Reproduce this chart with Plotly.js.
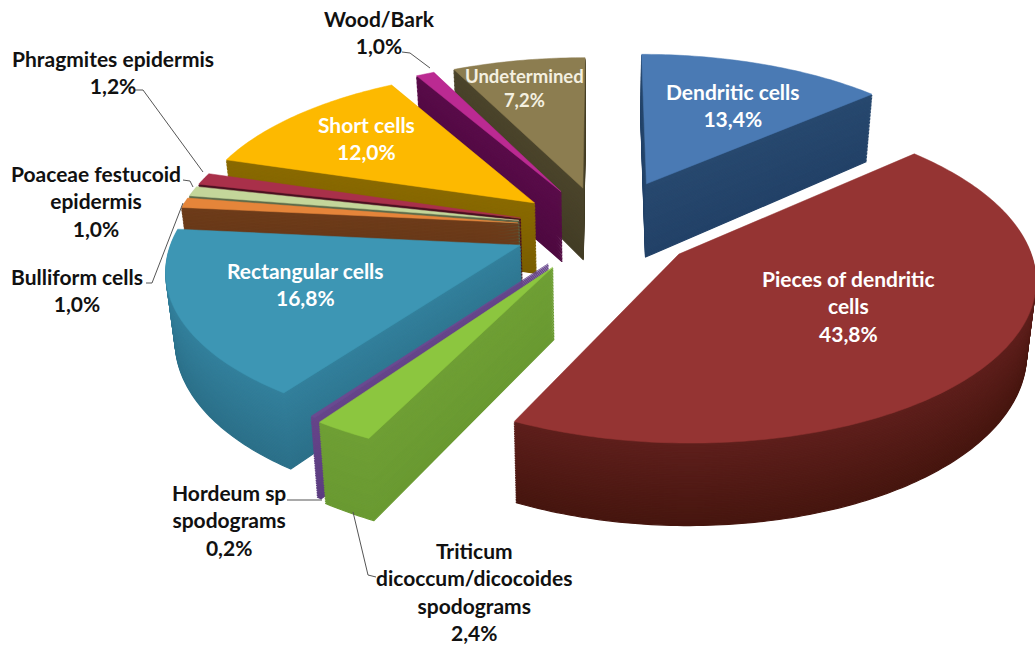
<!DOCTYPE html>
<html><head><meta charset="utf-8">
<script src="https://cdn.plot.ly/plotly-3.0.1.min.js"></script>
<style>html,body{margin:0;padding:0;background:#fff;overflow:hidden}#chart{width:1035px;height:647px}text{font-variant-ligatures:none}</style>
</head><body><div id="chart"></div>
<script>
// ---- data ----
const categories = ["Dendritic cells","Pieces of dendritic cells","Triticum dicoccum/dicocoides spodograms","Hordeum sp spodograms","Rectangular cells","Bulliform cells","Poaceae festucoid epidermis","Phragmites epidermis","Short cells","Wood/Bark","Undetermined"];
const shares = [13.4,43.8,2.4,0.2,16.8,1.0,1.0,1.2,12.0,1.0,7.2];
// ---- style ----
const pulls = [0.32,0.27,0.28,0.27,0.26,0.25,0.25,0.25,0.26,0.27,0.27];
const depths = [76,70,70,70,67,72,72,72,72,72,74];
const topColors = ["#4a7ab4","#953433","#8cc63f","#6a4a90","#3d96b4","#e5853a","#c4d69a","#a9304a","#fdb900","#bb2a92","#8c7d50"];
const sideTop = ["#28496f","#5e1f1c","#6f9f35","#66458a","#33809c","#6e3c1a","#5d6b4a","#4a1020","#8a6a00","#5a0c4a","#4c452c"];
const sideBottom = ["#234268","#46160f","#6a9a32","#5c3d80","#2c7089","#5f3315","#4d5a3e","#3c0c18","#7a5e00","#4e0a40","#433d26"];
const layerCount = 48;
// camera that lays the flat pie on the table
const cam = {cx:603, cy:228, a:345, b:157, g:0.13, shrink:0.022};

function mix(c1,c2,t){
  const p=c=>[1,3,5].map(i=>parseInt(c.substr(i,2),16));
  const a=p(c1),b=p(c2);
  return "rgb("+a.map((v,i)=>Math.round(v+(b[i]-v)*t)).join(",")+")";
}
const traces=[];
for(let k=layerCount;k>=0;k--){
  const t=k/layerCount;
  const cols=k===0?topColors:sideTop.map((c,i)=>mix(c,sideBottom[i],t));
  traces.push({type:"pie",labels:categories,values:shares,sort:false,direction:"clockwise",rotation:0,
    pull:pulls,textinfo:"none",hoverinfo:"skip",showlegend:false,domain:{x:[0,1],y:[0,1]},
    marker:{colors:cols,line:{color:cols,width:k===0?0.5:1.2}}});
}
const W=1035,H=647;
const X=p=>p/W, Y=p=>1-p/H;
function lab(text,x,y,color,size){
  return {text:text,xref:"paper",yref:"paper",x:X(x),y:Y(y),xanchor:"center",yanchor:"middle",showarrow:false,align:"center",
    font:{family:"Lato, Carlito, sans-serif",size:size||21,color:color||"#111",weight:700}};
}
const annotations=[
  lab("Dendritic cells<br>13,4%",733,105,"#fff"),
  lab("Pieces of dendritic<br>cells<br>43,8%",848,306,"#fff"),
  lab("Rectangular cells<br>16,8%",305,284,"#fff"),
  lab("Short cells<br>12,0%",366,138,"#fff"),
  lab("Undetermined<br>7,2%",524,88,"#f4f0e0",18.5),
  lab("Wood/Bark<br>1,0%",379,32),
  lab("Phragmites epidermis<br>1,2%",113,72),
  lab("Poaceae festucoid<br>epidermis<br>1,0%",96,201),
  lab("Bulliform cells<br>1,0%",77,290),
  lab("Hordeum sp<br>spodograms<br>0,2%",229,520),
  lab("Triticum<br>dicoccum/dicocoides<br>spodograms<br>2,4%",474,591)
];
function leader(pts){
  return {type:"path",xref:"paper",yref:"paper",
    path:"M"+pts.map(p=>X(p[0])+","+Y(p[1])).join("L"),
    line:{color:"#555",width:1}};
}
const leaders=[
  [[135,90],[143,90],[203,172]],
  [[183,180],[190,181],[193,187]],
  [[146,283],[152,283],[183,203]],
  [[402,52],[410,53],[430,68]],
  [[287,500],[322,500]],
  [[353,512],[368,575],[376,577]]
].map(leader);
const layout={width:W,height:H,margin:{l:0,r:0,t:0,b:0,pad:0},paper_bgcolor:"#fff",plot_bgcolor:"#fff",showlegend:false,annotations:annotations,shapes:leaders};

Plotly.newPlot("chart",traces,layout,{staticPlot:true,displayModeBar:false}).then(gd=>{
  const maxPull=Math.max(...pulls);
  const r=Math.min(W,H)/(2+2*maxPull), c0x=W/2, c0y=H/2;
  const project=(x,y,z,depth)=>{
    const u=(x-c0x)/r, v=(y-c0y)/r, p=1/(1-cam.g*v);
    return [cam.cx+cam.a*u*p*(1-cam.shrink*z), cam.cy+(cam.b*v+depth*z)*p];
  };
  gd.querySelectorAll(".pielayer .trace").forEach((tr,ti)=>{
    const z=(layerCount-ti)/layerCount;
    tr.querySelectorAll("path.surface").forEach((path,si)=>{
      const L=path.getTotalLength(); if(!L) return;
      const arc=L-2*r, n=Math.max(2,Math.ceil(arc/4));
      const stops=[0,r]; for(let j=1;j<n;j++) stops.push(r+arc*j/n); stops.push(L-r);
      const d=stops.map(s=>{const q=path.getPointAtLength(s);const o=project(q.x,q.y,z,depths[si]);return o[0].toFixed(2)+","+o[1].toFixed(2);});
      path.setAttribute("d","M"+d.join("L")+"Z");
    });
  });
  document.body.setAttribute("data-ready","1");
});
</script></body></html>
